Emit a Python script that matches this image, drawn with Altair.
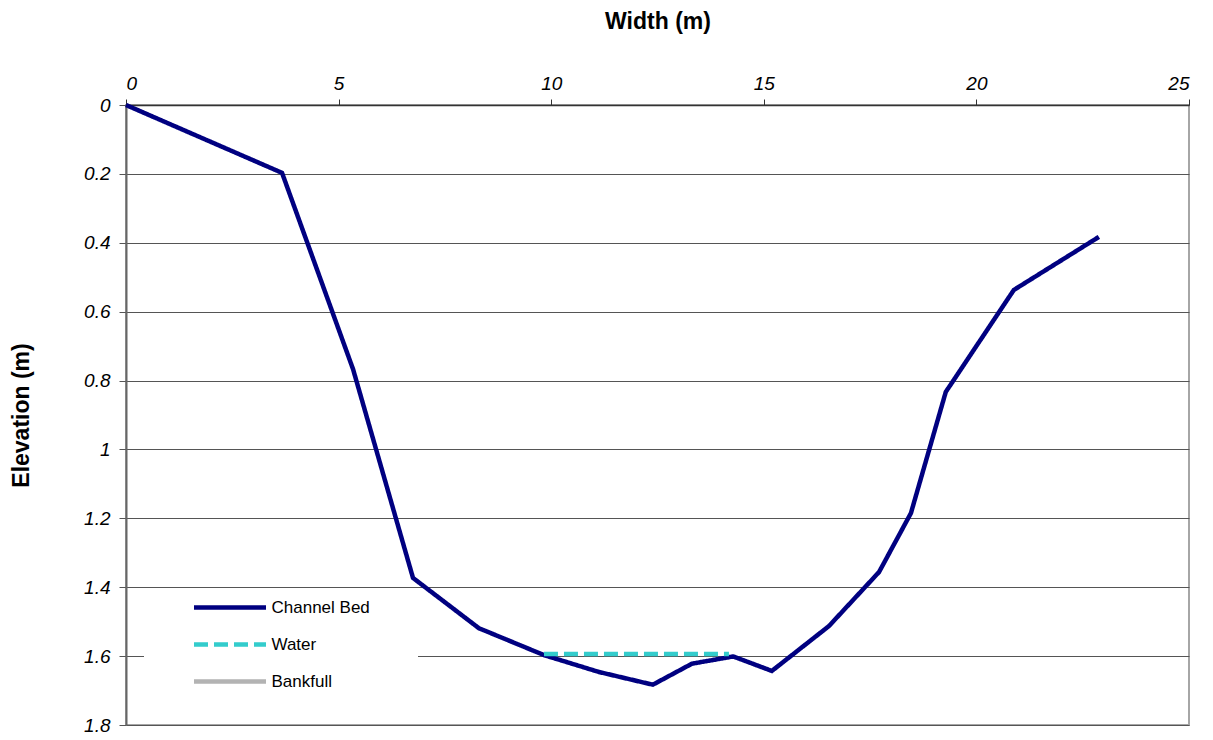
import altair as alt
import pandas as pd

# Channel bed survey (width in m, elevation/depth in m)
bed_width = [0, 3.67, 5.34, 6.75, 8.30, 9.83, 11.12, 12.39, 13.31, 14.28,
             15.19, 16.53, 17.71, 18.46, 19.28, 20.88, 22.88]
bed_elev = [0, 0.197, 0.767, 1.373, 1.519, 1.597, 1.646, 1.683, 1.622, 1.601,
            1.643, 1.513, 1.356, 1.185, 0.833, 0.537, 0.383]

water_width = [9.83, 14.18]
water_elev = [1.594, 1.594]

series_names = ["Channel Bed", "Water", "Bankfull"]
series_colors = ["#000080", "#33CCCC", "#B3B3B3"]

x_ticks = [0, 5, 10, 15, 20, 25]
y_ticks = [0, 0.2, 0.4, 0.6, 0.8, 1, 1.2, 1.4, 1.6, 1.8]

rows = []
for w, e in zip(bed_width, bed_elev):
    rows.append({"width": w, "elev": e, "series": "Channel Bed"})
for w, e in zip(water_width, water_elev):
    rows.append({"width": w, "elev": e, "series": "Water"})
df = pd.DataFrame(rows)

FONT = "Liberation Sans"

legend = alt.Legend(
    title="\u00a0",
    titleOrient="right",
    titlePadding=41,
    titleFontSize=10,
    orient="none",
    legendX=18,
    legendY=484,
    padding=7,
    fillColor="white",
    symbolType="M-1,0H7",
    symbolSize=324,
    symbolStrokeWidth=4.5,
    symbolOffset=40.5,
    labelOffset=57,
    labelFont=FONT,
    labelFontSize=17,
    labelColor="#000000",
    rowPadding=16,
)

chart = alt.Chart(df).mark_line(strokeWidth=4.5, strokeJoin="miter").encode(
    x=alt.X(
        "width:Q",
        scale=alt.Scale(domain=[0, 25], nice=False, zero=False),
        axis=alt.Axis(
            orient="top",
            values=x_ticks,
            format="d",
            title="Width (m)",
            grid=False,
            domainColor="#333333",
            domainWidth=1.5,
            tickColor="#333333",
            tickSize=6,
            labelPadding=6,
            labelFont=FONT,
            labelFontStyle="italic",
            labelFontSize=19,
            labelColor="#000000",
            titleFont=FONT,
            titleFontSize=23,
            titleFontWeight="bold",
            titleColor="#000000",
            titlePadding=41,
        ),
    ),
    y=alt.Y(
        "elev:Q",
        scale=alt.Scale(domain=[0, 1.8], reverse=True, nice=False),
        axis=alt.Axis(
            values=y_ticks,
            format="~g",
            title="Elevation (m)",
            grid=True,
            gridColor="#555555",
            gridWidth=1,
            domainColor="#666666",
            domainWidth=2,
            tickColor="#555555",
            tickSize=7,
            labelPadding=9,
            labelFont=FONT,
            labelFontStyle="italic",
            labelFontSize=19,
            labelColor="#000000",
            titleFont=FONT,
            titleFontSize=23,
            titleFontWeight="bold",
            titleColor="#000000",
            titlePadding=50,
        ),
    ),
    color=alt.Color(
        "series:N",
        scale=alt.Scale(domain=series_names, range=series_colors),
        legend=legend,
    ),
    strokeDash=alt.StrokeDash(
        "series:N",
        scale=alt.Scale(domain=series_names, range=[[1, 0], [14, 6], [1, 0]]),
        legend=legend,
    ),
).properties(
    width=1063,
    height=620,
    padding={"left": 2, "top": 2, "right": 5, "bottom": 5},
).configure_view(
    stroke="#A6A6A6",
    strokeWidth=2,
)

chart.save("out.html", embed_options={"renderer": "svg", "actions": False})
